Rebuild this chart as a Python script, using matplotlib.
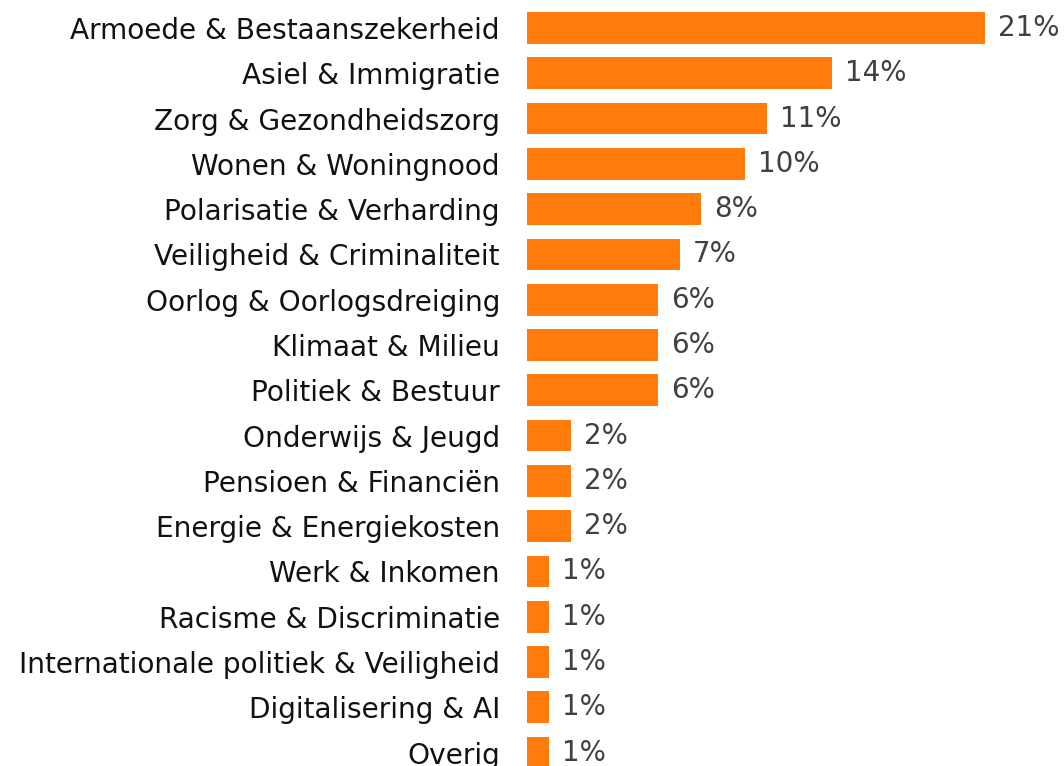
import matplotlib
matplotlib.use("Agg")
import matplotlib.pyplot as plt
import numpy as np

categories = [
    "Armoede & Bestaanszekerheid",
    "Asiel & Immigratie",
    "Zorg & Gezondheidszorg",
    "Wonen & Woningnood",
    "Polarisatie & Verharding",
    "Veiligheid & Criminaliteit",
    "Oorlog & Oorlogsdreiging",
    "Klimaat & Milieu",
    "Politiek & Bestuur",
    "Onderwijs & Jeugd",
    "Pensioen & Financiën",
    "Energie & Energiekosten",
    "Werk & Inkomen",
    "Racisme & Discriminatie",
    "Internationale politiek & Veiligheid",
    "Digitalisering & AI",
    "Overig",
]
values = [21, 14, 11, 10, 8, 7, 6, 6, 6, 2, 2, 2, 1, 1, 1, 1, 1]
value_labels = [f"{v}%" for v in values]

bar_color = "#FF7C0A"

fig = plt.figure(figsize=(10.64, 7.66), dpi=100)
ax = fig.add_axes([0.4953, -0.012, 0.451, 1.005])

y = np.arange(len(categories))
ax.barh(y, values, height=0.7, color=bar_color)
ax.set_ylim(len(categories) - 0.5, -0.5)
ax.set_xlim(0, 22)

ax.set_yticks(y)
ax.set_yticklabels(categories, fontsize=20.2, color="#111111")
ax.tick_params(axis="y", length=0, pad=19.5)
ax.set_xticks([])
for s in ax.spines.values():
    s.set_visible(False)

for yi, v, lab in zip(y, values, value_labels):
    ax.annotate(lab, (v, yi), xytext=(13, 0), textcoords="offset pixels",
                va="center", ha="left", fontsize=20, color="#404040")

fig.savefig("out.png", dpi=100)
